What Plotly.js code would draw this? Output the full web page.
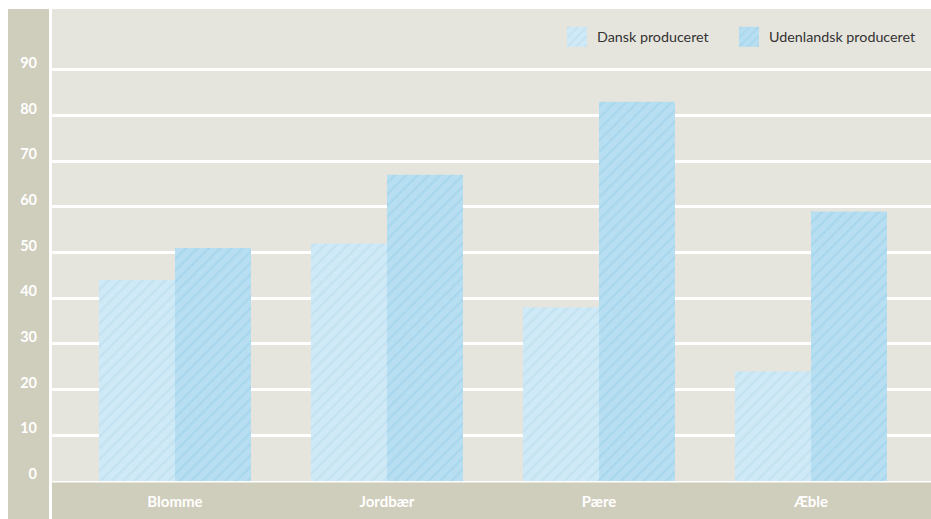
<!DOCTYPE html>
<html>
<head>
<meta charset="utf-8">
<script src="https://cdn.plot.ly/plotly-3.0.1.min.js"></script>
<style>html,body{margin:0;padding:0;background:#fff;}#chart{width:931px;height:519px;}</style>
</head>
<body>
<div id="chart"></div>
<script>
const categories = ["Blomme", "Jordbær", "Pære", "Æble"];
const dansk = [44, 52, 38, 24];
const udenlandsk = [51, 67, 83, 59];
const seriesNames = ["Dansk produceret", "Udenlandsk produceret"];
const yTicks = [0, 10, 20, 30, 40, 50, 60, 70, 80, 90];

const FONT = "Lato, 'Open Sans', sans-serif";

const traces = [
  {
    type: "bar", name: seriesNames[0], x: categories, y: dansk,
    marker: {color: "#d0e9f6", line: {width: 0},
      pattern: {shape: "/", fgcolor: "#c3e2f2", bgcolor: "#d0e9f6", size: 8, solidity: 0.3, fillmode: "replace"}},
    hoverinfo: "x+y"
  },
  {
    type: "bar", name: seriesNames[1], x: categories, y: udenlandsk,
    marker: {color: "#b7dff1", line: {width: 0},
      pattern: {shape: "/", fgcolor: "#a9d7ee", bgcolor: "#b7dff1", size: 8, solidity: 0.3, fillmode: "replace"}},
    hoverinfo: "x+y"
  }
];

const plotW = 931 - 52, plotH = 519 - 9 - 38;
const layout = {
  width: 931, height: 519,
  margin: {l: 52, r: 0, t: 9, b: 38, pad: 0, autoexpand: false},
  paper_bgcolor: "#ffffff",
  plot_bgcolor: "#e6e5dd",
  barmode: "group", bargap: 0.283, bargroupgap: 0,
  font: {family: FONT, color: "#3a3a3a"},
  showlegend: true,
  legend: {orientation: "h", x: (557 - 52) / plotW, xanchor: "left", y: (481 - 37) / plotH, yanchor: "middle",
    bgcolor: "rgba(0,0,0,0)", font: {family: FONT, size: 14.3, color: "#333333"},
    entrywidth: 127, entrywidthmode: "pixels", traceorder: "normal"},
  xaxis: {type: "category", range: [-0.58, 3.566], showgrid: false, zeroline: false, showline: false,
    ticks: "", ticklabelstandoff: 10,
    tickfont: {family: FONT, size: 15, color: "#ffffff", weight: "bold"}, fixedrange: true},
  yaxis: {range: [0, 103.3], tickvals: yTicks, ticktext: yTicks.map(String), showgrid: true, gridcolor: "#ffffff", gridwidth: 3,
    zeroline: false, showline: false, ticks: "", ticklabelshift: -7, ticklabelstandoff: 14,
    tickfont: {family: FONT, size: 14.5, color: "#ffffff", weight: "bold"}, fixedrange: true},
  shapes: [
    {type: "rect", xref: "paper", yref: "paper", x0: (8 - 52) / plotW, x1: (49 - 52) / plotW, y0: -38 / plotH, y1: 1,
      fillcolor: "#cfcdbc", line: {width: 0}, layer: "below"},
    {type: "rect", xref: "paper", yref: "paper", x0: 0, x1: 1, y0: -38 / plotH, y1: -1.5 / plotH,
      fillcolor: "#cfcdbc", line: {width: 0}, layer: "below"}
  ]
};

Plotly.newPlot("chart", traces, layout, {displayModeBar: false, staticPlot: true}).then(function (gd) {
  gd.querySelectorAll(".legend [clip-path]").forEach(function (el) { el.removeAttribute("clip-path"); });
  gd.querySelectorAll(".legendpoints path").forEach(function (p) {
    p.setAttribute("d", "M10,10H-10V-10H10Z");
  });
});
</script>
</body>
</html>
